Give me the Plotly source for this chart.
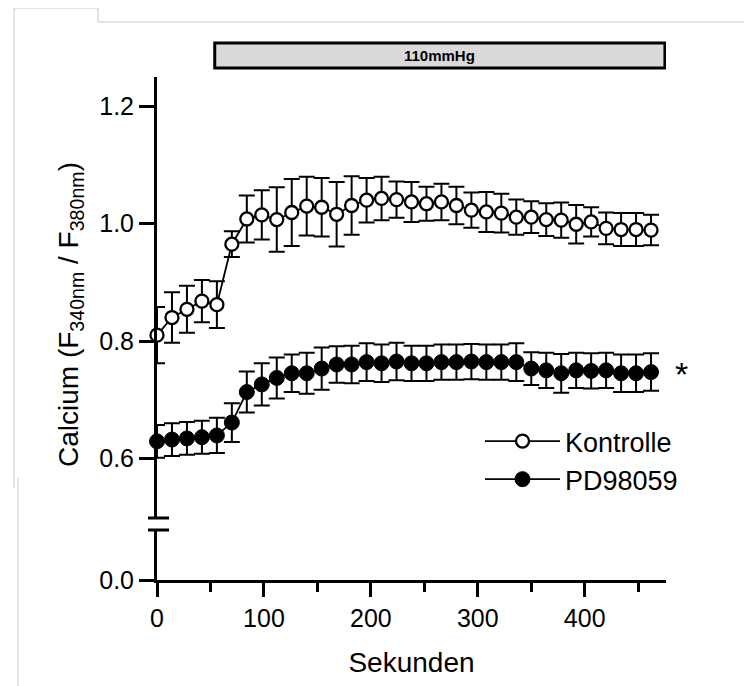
import plotly.graph_objects as go

# ---- data ----
seconds = [0, 14, 28, 42, 56, 70, 84, 98, 112, 126, 140, 154, 168, 182, 196, 210, 224,
           238, 252, 266, 280, 294, 308, 322, 336, 350, 364, 378, 392, 406, 420, 434, 448, 462]

kontrolle_mean = [0.810, 0.840, 0.854, 0.868, 0.862, 0.965, 1.008, 1.015, 1.007, 1.019,
                  1.030, 1.028, 1.016, 1.031, 1.040, 1.043, 1.041, 1.037, 1.034, 1.037,
                  1.031, 1.023, 1.020, 1.018, 1.011, 1.011, 1.007, 1.006, 0.999, 1.003,
                  0.992, 0.990, 0.990, 0.989]
kontrolle_err = [0.048, 0.043, 0.040, 0.036, 0.040, 0.022, 0.040, 0.042, 0.055, 0.057,
                 0.050, 0.050, 0.055, 0.050, 0.038, 0.037, 0.031, 0.034, 0.029, 0.031,
                 0.032, 0.030, 0.034, 0.033, 0.030, 0.027, 0.028, 0.030, 0.033, 0.025,
                 0.027, 0.028, 0.028, 0.026]

pd_mean = [0.629, 0.632, 0.634, 0.636, 0.639, 0.661, 0.713, 0.726, 0.737, 0.745,
           0.745, 0.753, 0.760, 0.760, 0.764, 0.762, 0.765, 0.762, 0.762, 0.764,
           0.764, 0.765, 0.764, 0.764, 0.764, 0.753, 0.750, 0.745, 0.750, 0.749,
           0.750, 0.745, 0.745, 0.747]
pd_err = [0.028, 0.028, 0.028, 0.028, 0.030, 0.033, 0.035, 0.036, 0.035, 0.032,
          0.035, 0.036, 0.031, 0.032, 0.032, 0.032, 0.032, 0.030, 0.030, 0.030,
          0.030, 0.030, 0.030, 0.030, 0.032, 0.028, 0.030, 0.033, 0.030, 0.030,
          0.030, 0.032, 0.032, 0.032]

series_names = ["Kontrolle", "PD98059"]
stim_label = "110mmHg"
stim_start, stim_end = 54, 475
x_ticks = [0, 100, 200, 300, 400]
y_upper_ticks = [0.6, 0.8, 1.0, 1.2]
y_lower_ticks = [0.0]

FONT = "Liberation Sans, Arial, sans-serif"

# ---- geometry: absolute window pixels; the page body has an 8px margin ----
OFF = 8
WIN_W, WIN_H = 752, 686
W, H = WIN_W - OFF, WIN_H - OFF
PL, PR, PT, PB = 157, 666, 77, 580          # plot box in window pixels
L, R, T, B = PL - OFF, W - (PR - OFF), PT - OFF, H - (PB - OFF)
PW, PH = W - L - R, H - T - B


def px(x):
    return (x - PL) / PW


def py(y):
    return (PB - y) / PH


low_dom = [0, py(530)]
up_dom = [py(517), 1]

fig = go.Figure()

fig.add_trace(go.Scatter(
    x=seconds, y=kontrolle_mean, name=series_names[0], yaxis="y2",
    mode="lines+markers", cliponaxis=False,
    line=dict(color="black", width=1.8),
    marker=dict(symbol="circle", size=13, color="white", line=dict(color="black", width=2.3)),
    error_y=dict(type="data", array=kontrolle_err, visible=True, color="black",
                 thickness=2, width=8),
))
fig.add_trace(go.Scatter(
    x=seconds, y=pd_mean, name=series_names[1], yaxis="y2",
    mode="lines+markers", cliponaxis=False,
    line=dict(color="black", width=1.8),
    marker=dict(symbol="circle", size=15, color="black", line=dict(color="black", width=1)),
    error_y=dict(type="data", array=pd_err, visible=True, color="black",
                 thickness=2, width=8),
))
# empty trace so the lower (broken) y-axis segment is drawn
fig.add_trace(go.Scatter(x=[], y=[], yaxis="y", showlegend=False, hoverinfo="skip"))

axis_common = dict(showline=True, linecolor="black", linewidth=3, ticks="outside",
                   tickcolor="black", tickwidth=3, showgrid=False, zeroline=False,
                   tickfont=dict(family=FONT, size=25, color="black"))

fig.update_layout(
    width=W, height=H,
    margin=dict(l=L, r=R, t=T, b=B, autoexpand=False),
    paper_bgcolor="white", plot_bgcolor="white",
    font=dict(family=FONT, color="black"),
    showlegend=True,
    legend=dict(x=px(480), y=py(417), xanchor="left", yanchor="top",
                font=dict(family=FONT, size=27, color="black"),
                bgcolor="rgba(0,0,0,0)", tracegroupgap=0, itemwidth=75),
    xaxis=dict(range=[0, 476], tickvals=x_ticks, ticklen=14, anchor="y",
               minor=dict(dtick=50, tick0=0, ticklen=9, tickwidth=3, ticks="outside",
                          tickcolor="black"),
               title=dict(text="Sekunden", font=dict(family=FONT, size=28), standoff=22),
               **axis_common),
    yaxis=dict(domain=low_dom, range=[0, 0.085], tickvals=y_lower_ticks, tickformat=".1f",
               ticklen=15, anchor="x", **axis_common),
    yaxis2=dict(domain=up_dom, range=[0.5, 1.25], tickvals=y_upper_ticks, tickformat=".1f",
                ticklen=15, anchor="x", **axis_common),
)

shapes = []
# axis break caps
for yy in (518, 530):
    shapes.append(dict(type="line", xref="paper", yref="paper",
                       x0=px(148), x1=px(169), y0=py(yy), y1=py(yy),
                       line=dict(color="black", width=3)))
# stimulus bar
shapes.append(dict(type="rect", xref="x", yref="paper", x0=stim_start, x1=stim_end,
                   y0=py(68), y1=py(43), fillcolor="#dadada",
                   line=dict(color="black", width=3), layer="above"))
# faint scan-frame lines
gray = dict(color="#c8c8c8", width=1)
for (x0, y0, x1, y1) in [(14, 8, 98, 8), (98, 8, 98, 22), (98, 22, 752, 22),
                         (14, 8, 14, 488), (18, 478, 18, 686)]:
    shapes.append(dict(type="line", xref="paper", yref="paper",
                       x0=px(x0), x1=px(x1), y0=py(y0), y1=py(y1), line=gray))
fig.update_layout(shapes=shapes)

annotations = [
    dict(text="<b>" + stim_label + "</b>", xref="x", yref="paper",
         x=(stim_start + stim_end) / 2, y=py(55.5), showarrow=False,
         font=dict(family=FONT, size=15, color="black"), xanchor="center", yanchor="middle"),
    dict(text="Calcium (F<sub>340nm</sub> / F<sub>380nm</sub>)", xref="paper", yref="paper",
         x=px(70), y=py(315), textangle=-90, showarrow=False,
         font=dict(family=FONT, size=28, color="black"), xanchor="center", yanchor="middle"),
    dict(text="*", xref="paper", yref="paper", x=px(681), y=py(374), showarrow=False,
         font=dict(family=FONT, size=34, color="black"), xanchor="center", yanchor="middle"),
]
fig.update_layout(annotations=annotations)

fig.write_html("out.html")
